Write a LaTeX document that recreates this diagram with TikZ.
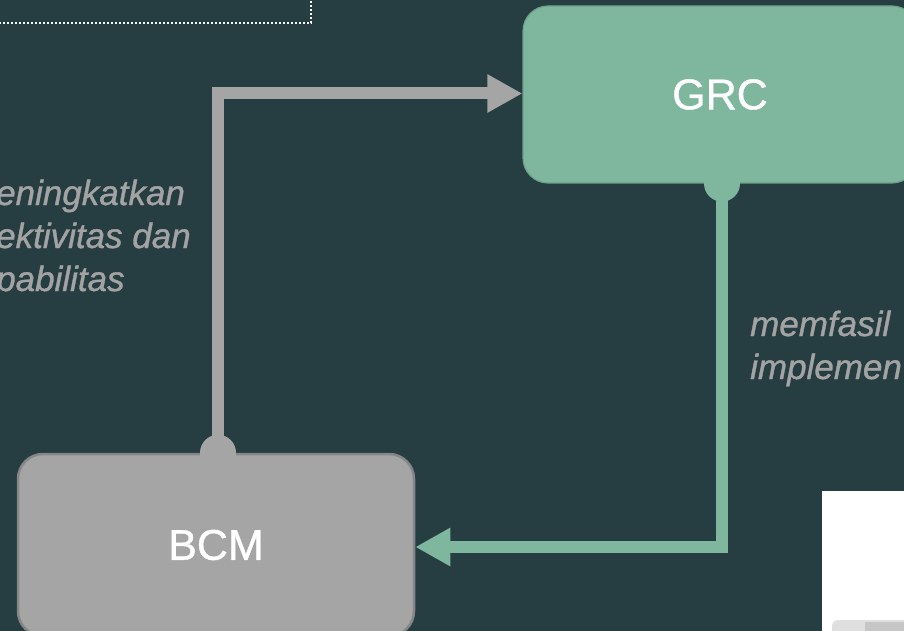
\documentclass[tikz,border=0pt]{standalone}
\usepackage{fontspec}
\setmainfont{Liberation Sans}
\newfontfamily\mediumfont[FakeBold=1]{Liberation Sans}
\usetikzlibrary{arrows.meta,positioning}

\definecolor{bgteal}{HTML}{263D42}
\definecolor{grcgreen}{HTML}{7FB69E}
\definecolor{grcedge}{HTML}{6E9F89}
\definecolor{bcmgray}{HTML}{A5A5A5}
\definecolor{bcmedge}{HTML}{868686}
\definecolor{notegray}{HTML}{A3A3A3}

\tikzset{
    block/.style={rounded corners=25pt, inner sep=0pt, text=white,
        font=\mediumfont\fontsize{43}{43}\selectfont},
    link/.style={line width=12pt, -{Triangle[length=35pt,width=36pt]}},
    note/.style={text=notegray, align=left, inner sep=0pt,
        font=\mediumfont\itshape\fontsize{35}{43}\selectfont}
}

\begin{document}
\begin{tikzpicture}[x=1pt,y=-1pt]

% Background
\useasboundingbox (0,0) rectangle (904,631);
\clip (0,0) rectangle (904,631);
\fill[bgteal] (-5,-5) rectangle (910,640);

% Dotted frame, top left
\draw[white, line width=1.2pt, dash pattern=on 2pt off 2pt] (-10,-20) rectangle (311,23);

% Boxes
\node[block, fill=grcgreen, draw=grcedge, line width=1.2pt,
      minimum width=394pt, minimum height=177pt] (grc) at (720,94.5) {GRC};
\node[block, fill=bcmgray, draw=bcmedge, line width=2.5pt,
      minimum width=396pt, minimum height=182pt] (bcm) at (216,545) {BCM};

% Connectors
\draw[link, bcmgray] ([xshift=2pt]bcm.north) |- ([yshift=1pt]grc.west);
\draw[link, grcgreen] ([xshift=2pt]grc.south) |- ([yshift=-2pt]bcm.east);

% Start dots
\fill[bcmgray] ([xshift=2pt]bcm.north) circle (18pt);
\fill[grcgreen] ([xshift=2pt]grc.south) circle (18pt);

% Notes (base = last line)
\node[note, anchor=base west] (notebcm) at (-4,291) {eningkatkan\\ektivitas dan\\pabilitas};
\node[note, anchor=base west] (notegrc) at (750,379) {memfasil\\implemen};

% White panel, bottom right
\fill[white] (822,491) rectangle (910,640);
\fill[gray!25, rounded corners=6pt] (832,620) rectangle (920,640);
\fill[gray!45] (865,622) rectangle (920,640);

\end{tikzpicture}
\end{document}
